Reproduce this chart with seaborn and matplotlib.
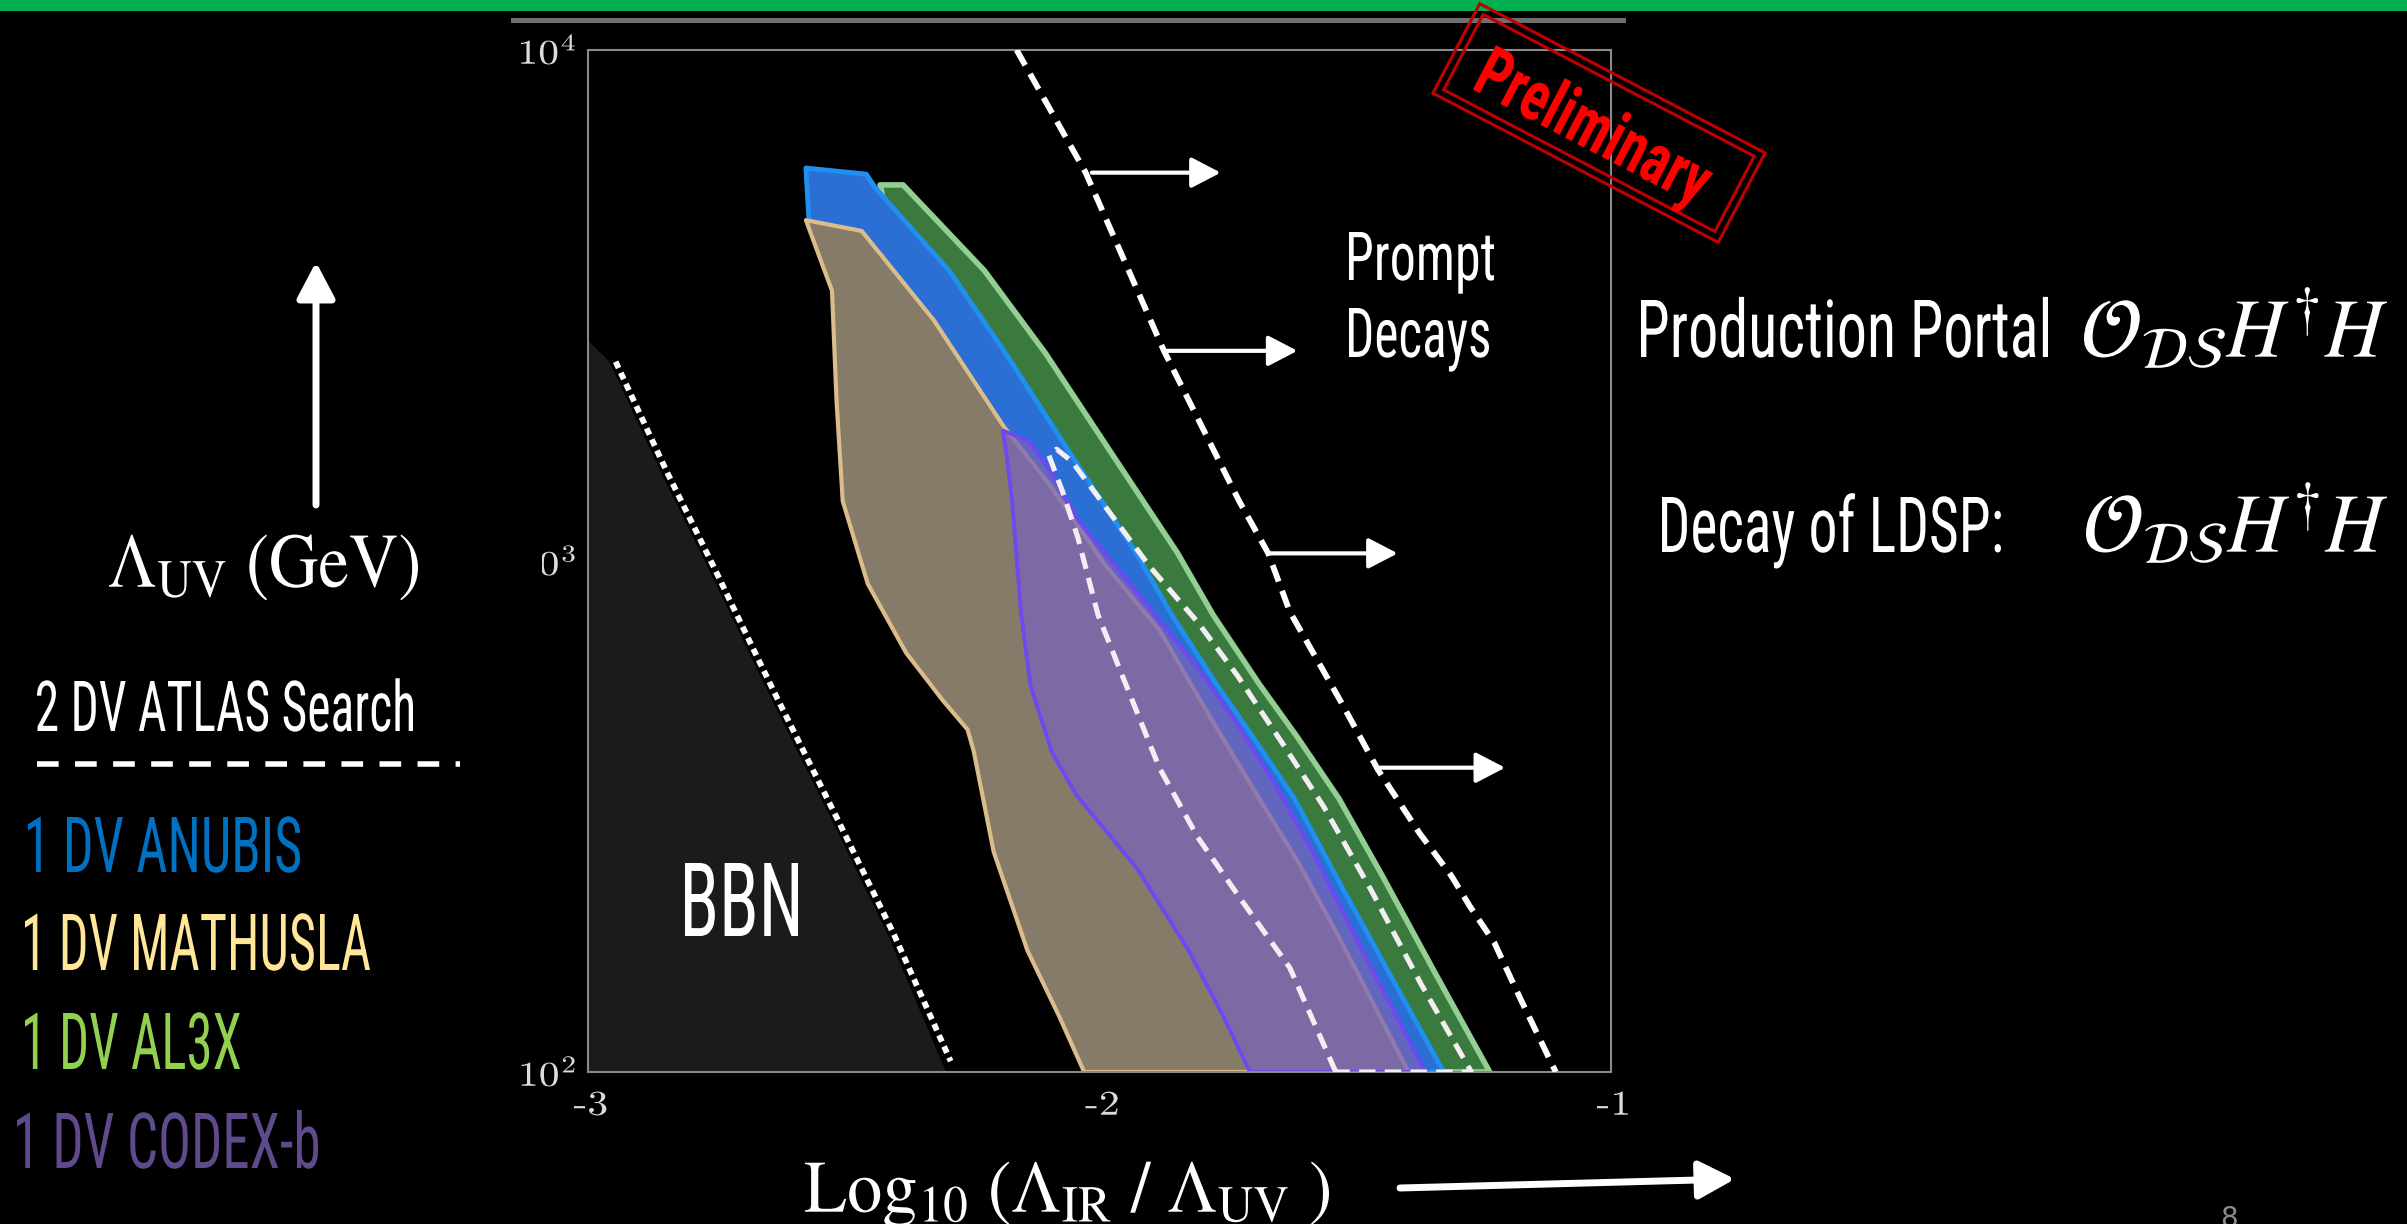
import matplotlib
matplotlib.use("Agg")
import matplotlib.pyplot as plt
import seaborn as sns
from matplotlib import patheffects
from matplotlib import font_manager as fm
from matplotlib.font_manager import FontProperties
from matplotlib.patches import Rectangle
from matplotlib.textpath import TextPath
from matplotlib.transforms import Affine2D
from matplotlib.ticker import LogLocator, NullFormatter, FixedLocator, FixedFormatter

# ---------------- data: x = log10(Lambda_IR / Lambda_UV), y = Lambda_UV [GeV] ----------------
# BBN excluded region and its boundary
bbn_fill_x = [-3.0, -2.958, -2.859, -2.766, -2.688, -2.643, -2.526, -2.414, -2.300, -3.0]
bbn_fill_y = [2700, 2455, 1503, 973, 670, 541, 315, 186, 100, 100]
bbn_edge_x = [-2.946, -2.847, -2.754, -2.676, -2.631, -2.514, -2.402, -2.291]
bbn_edge_y = [2455, 1503, 973, 670, 541, 315, 186, 105]

# prompt-decay boundary
prompt_x = [-2.162, -2.027, -1.874, -1.727, -1.670, -1.628, -1.526, -1.456, -1.375, -1.312, -1.276, -1.228, -1.177, -1.108]
prompt_y = [10000, 5754, 2578, 1310, 1035, 796, 526, 391, 294, 242, 211, 179, 139, 100]
arrow_x0 = [-2.015, -1.868, -1.670, -1.456]
arrow_x1 = [-1.763, -1.613, -1.417, -1.207]
arrow_y = [5754, 2578, 1035, 394]

# 1 DV AL3X
al3x_x = [-2.429, -2.384, -2.225, -2.105, -1.976, -1.847, -1.778, -1.688, -1.613, -1.532, -1.447, -1.342, -1.237,
          -1.447, -1.598, -1.898, -2.198, -2.408]
al3x_y = [5445, 5445, 3700, 2545, 1622, 1035, 785, 575, 452, 343, 242, 155, 100,
          100, 226, 785, 2215, 4425]

# 1 DV ANUBIS
anubis_x = [-2.574, -2.456, -2.438, -2.294, -2.183, -2.057, -1.928, -1.859, -1.772, -1.700, -1.619, -1.538, -1.432, -1.327,
            -1.868, -2.048, -2.198, -2.348, -2.438, -2.514, -2.568]
anubis_y = [5875, 5715, 5370, 3700, 2545, 1622, 1035, 785, 575, 452, 343, 242, 155, 100,
            100, 259, 556, 1109, 2215, 4130, 4645]

# 1 DV MATHUSLA
mathusla_x = [-2.574, -2.465, -2.324, -2.186, -2.096, -1.988, -1.883, -1.778, -1.688, -1.613, -1.526, -1.396,
              -2.030, -2.078, -2.141, -2.207, -2.246, -2.258, -2.306, -2.378, -2.453, -2.502, -2.514, -2.523]
mathusla_y = [4645, 4425, 2960, 1825, 1403, 979, 733, 484, 343, 259, 179, 100,
              100, 128, 173, 270, 425, 468, 533, 661, 902, 1310, 2050, 3380]

# 1 DV CODEX-b
codex_x = [-2.189, -2.180, -2.171, -2.153, -2.135, -2.093, -2.045, -1.925, -1.826, -1.757, -1.706,
           -1.363, -1.477, -1.583, -1.658, -1.733, -1.808, -1.892, -1.964, -2.039, -2.093, -2.138]
codex_y = [1800, 1567, 1310, 785, 571, 422, 348, 249, 173, 128, 100,
           100, 166, 269, 367, 484, 617, 785, 966, 1190, 1483, 1715]

# 2 DV ATLAS search contour
atlas_x = [-1.538, -1.628, -1.724, -1.808, -1.883, -1.949, -2.003, -2.042, -2.072, -2.099, -2.084,
           -2.054, -1.988, -1.901, -1.808, -1.730, -1.640, -1.562, -1.468, -1.372, -1.273, -1.538]
atlas_y = [100, 160, 218, 288, 394, 575, 785, 1109, 1365, 1610, 1655,
           1567, 1275, 973, 759, 596, 436, 331, 226, 149, 100, 100]

x_ticks = [-3, -2, -1]
x_minor_ticks = [-2.5, -1.5]
x_tick_labels = ["-3", "-2", "-1"]
y_ticks = [1e2, 1e3, 1e4]
y_tick_labels = [r"$10^2$", r"$10^3$", r"$10^4$"]

legend_entries = ["1 DV ANUBIS", "1 DV MATHUSLA", "1 DV AL3X", "1 DV CODEX-b"]
legend_colors = ["#0070C0", "#FFE699", "#92D050", "#5F4B8B"]

# ---------------- figure setup ----------------
W_PX, H_PX, DPI = 2407, 1224, 100

sns.set_theme(style="dark", rc={"axes.facecolor": "black", "figure.facecolor": "black",
                                "axes.grid": False})
plt.rcParams["font.family"] = ["DejaVu Sans"]
plt.rcParams["axes.unicode_minus"] = False
plt.rcParams["mathtext.fontset"] = "cm"


def pick_font(cands):
    for c in cands:
        try:
            fm.findfont(FontProperties(family=c), fallback_to_default=False)
            return c
        except Exception:
            pass
    return "DejaVu Sans"


PLAIN = pick_font(["Roboto Condensed", "Liberation Sans Narrow", "DejaVu Sans Condensed", "Roboto", "DejaVu Sans"])


class Squeeze(patheffects.AbstractPathEffect):
    """Draw glyphs scaled along the baseline."""

    def __init__(self, sx):
        super().__init__()
        self._sx = sx

    def draw_path(self, renderer, gc, tpath, affine, rgbFace=None):
        renderer.draw_path(gc, tpath, Affine2D().scale(self._sx, 1.0) + affine, rgbFace)


fig = plt.figure(figsize=(W_PX / DPI, H_PX / DPI), dpi=DPI)
fig.patch.set_facecolor("black")
ax = fig.add_axes([588 / W_PX, 1 - 1072 / H_PX, (1611 - 588) / W_PX, (1072 - 50) / H_PX])
ax.set_facecolor("black")
ax.set_yscale("log")

# ---------------- regions ----------------
ax.fill(bbn_fill_x, bbn_fill_y, facecolor="#1b1b1b", edgecolor="none", zorder=1)
ax.fill(al3x_x, al3x_y, facecolor="#3b7a3e", edgecolor="#93cf93", linewidth=4.0,
        joinstyle="round", zorder=2)
ax.fill(anubis_x, anubis_y, facecolor="#2b6fd4", edgecolor="#1f8ff0", linewidth=3.5,
        joinstyle="round", zorder=2.1)
ax.fill(mathusla_x, mathusla_y, facecolor="#857b68", edgecolor="#dbbd8c", linewidth=3.0,
        joinstyle="round", zorder=2.2)
ax.fill(codex_x, codex_y, facecolor=(120 / 255, 100 / 255, 184 / 255, 0.74), edgecolor="#7048f0",
        linewidth=2.8, joinstyle="round", zorder=2.3)

# ---------------- boundary lines ----------------
sns.lineplot(x=bbn_edge_x, y=bbn_edge_y, sort=False, estimator=None, ax=ax, color="white",
             linewidth=4.2, linestyle=(0, (1.2, 0.9)), zorder=4)
sns.lineplot(x=atlas_x, y=atlas_y, sort=False, estimator=None, ax=ax, color="#f4eef4",
             linewidth=3.7, linestyle=(0, (3.2, 1.8)), zorder=4)
sns.lineplot(x=prompt_x, y=prompt_y, sort=False, estimator=None, ax=ax, color="white",
             linewidth=4.2, linestyle=(0, (3.0, 1.7)), zorder=4)

for x0, x1, yv in zip(arrow_x0, arrow_x1, arrow_y):
    ax.annotate("", xy=(x1, yv), xytext=(x0, yv), zorder=5,
                arrowprops=dict(arrowstyle="-|>,head_length=0.5,head_width=0.26", color="white",
                                lw=3.0, mutation_scale=36, shrinkA=0, shrinkB=0))

# ---------------- axes styling ----------------
ax.set_xlim(-3, -1)
ax.set_ylim(100, 1e4)
ax.set_xlabel("")
ax.set_ylabel("")
ax.tick_params(axis="both", which="both", direction="in", color="#a0a0a0", width=1.2, length=8.5,
               labelcolor="#dcdcdc")
ax.tick_params(axis="x", which="both", pad=13, labelsize=25, labelfontfamily="cmr10")
ax.tick_params(axis="y", which="both", pad=15, labelsize=25)
ax.xaxis.set_major_locator(FixedLocator(x_ticks))
ax.xaxis.set_major_formatter(FixedFormatter(x_tick_labels))
ax.xaxis.set_minor_locator(FixedLocator(x_minor_ticks))
ax.yaxis.set_major_locator(FixedLocator(y_ticks))
ax.yaxis.set_major_formatter(FixedFormatter(y_tick_labels))
ax.yaxis.set_minor_locator(LogLocator(base=10, subs=range(2, 10)))
ax.yaxis.set_minor_formatter(NullFormatter())
# the tick labels are drawn slightly widened
for tk in ax.xaxis.get_major_ticks() + ax.yaxis.get_major_ticks():
    tk.label1.set_path_effects([Squeeze(1.2)])
for sp in ax.spines.values():
    sp.set_visible(True)
    sp.set_color("#8a8a8a")
    sp.set_linewidth(1.5)

# ---------------- slide overlay (pixel coordinates) ----------------
ov = fig.add_axes([0, 0, 1, 1], zorder=10)
ov.set_xlim(0, W_PX)
ov.set_ylim(H_PX, 0)
ov.axis("off")

ov.add_patch(Rectangle((0, 0), W_PX, 11, facecolor="#00B050", edgecolor="none", zorder=1))
ov.add_patch(Rectangle((511, 18), 1626 - 511, 5, facecolor="#6e6e6e", edgecolor="none", zorder=1))
ov.add_patch(Rectangle((500, 530), 42, 60, facecolor="black", edgecolor="none", zorder=1))


def place(s, x, y, cap, width, color, family=None, math="dejavusans", ref="H",
          weight="normal", rotation=0.0, zorder=20):
    fp = FontProperties(family=family or PLAIN, weight=weight, math_fontfamily=math)
    h100 = TextPath((0, 0), ref, size=100, prop=fp).get_extents().height
    ext = TextPath((0, 0), s, size=100, prop=fp).get_extents()
    size_px = cap * 100.0 / h100
    natural = ext.width / 100.0 * size_px
    sq = width / natural
    if rotation == 0:
        x = x - sq * ext.x0 / 100.0 * size_px
    fp2 = fp.copy()
    fp2.set_size(size_px * 72.0 / DPI)
    ov.text(x, y, s, fontproperties=fp2, color=color, ha="left", va="baseline",
            rotation=rotation, rotation_mode="anchor", path_effects=[Squeeze(sq)], zorder=zorder)


# labels inside the plot
place("Prompt", 1349, 280, 48, 145, "white")
place("Decays", 1349, 357, 49, 140, "white")
place("BBN", 685, 936, 73, 113, "white")

# right-hand annotations
place("Production Portal", 1641, 357, 57, 407, "white")
place(r"$\mathcal{O}_{\mathcal{DS}}H^{\dagger}H$", 2084, 357, 55, 303, "white", math="stix", ref=r"$H$")
place("Decay of LDSP:", 1662, 552, 55, 339, "white")
place(r"$\mathcal{O}_{\mathcal{DS}}H^{\dagger}H$", 2086, 552, 55, 301, "white", math="stix", ref=r"$H$")

# axis titles
place(r"$\Lambda_{\mathrm{UV}}\ (\mathrm{GeV})$", 109, 587, 52, 309, "white", math="stix", ref=r"$\Lambda$")
place(r"$\mathrm{Log}_{10}\ (\Lambda_{\mathrm{IR}}\ /\ \Lambda_{\mathrm{UV}}\ )$", 805, 1212, 49, 524, "white",
      math="stix", ref=r"$\mathrm{L}$")
ov.annotate("", xy=(316, 262), xytext=(316, 505), zorder=15,
            arrowprops=dict(arrowstyle="-|>,head_length=0.55,head_width=0.29", color="white",
                            lw=5, mutation_scale=40, shrinkA=0, shrinkB=0))
ov.annotate("", xy=(1735, 1179), xytext=(1400, 1188), zorder=15,
            arrowprops=dict(arrowstyle="-|>,head_length=0.55,head_width=0.29", color="white",
                            lw=5, mutation_scale=40, shrinkA=0, shrinkB=0))

# legend
place("2 DV ATLAS Search", 37, 731, 50, 376, "white")
ov.plot([37, 460], [764, 764], color="white", lw=4.0, linestyle=(0, (3.9, 2.95)),
        dash_capstyle="butt", zorder=15)
legend_pos = [(28, 872, 55, 272), (25, 970, 56, 345), (25, 1069, 56, 215), (17, 1168, 55, 301)]
for txt, col, (lx, ly, lc, lw_) in zip(legend_entries, legend_colors, legend_pos):
    place(txt, lx, ly, lc, lw_, col)

# "Preliminary" stamp
for w, h in [(322, 101), (306, 85)]:
    ov.add_patch(Rectangle((1599 - w / 2, 123 - h / 2), w, h, angle=27.6, rotation_point="center",
                           fill=False, edgecolor="#c00000", lw=2.2, zorder=30))
place("Preliminary", 1470, 88, 50, 252, "#ff0000", weight="bold", rotation=-27.6, zorder=31)

# page number
ov.text(2229, 1205, "8", ha="center", va="top", fontsize=20, color="#8c8c8c", zorder=20)

fig.savefig("out.png", dpi=DPI, facecolor="black")
